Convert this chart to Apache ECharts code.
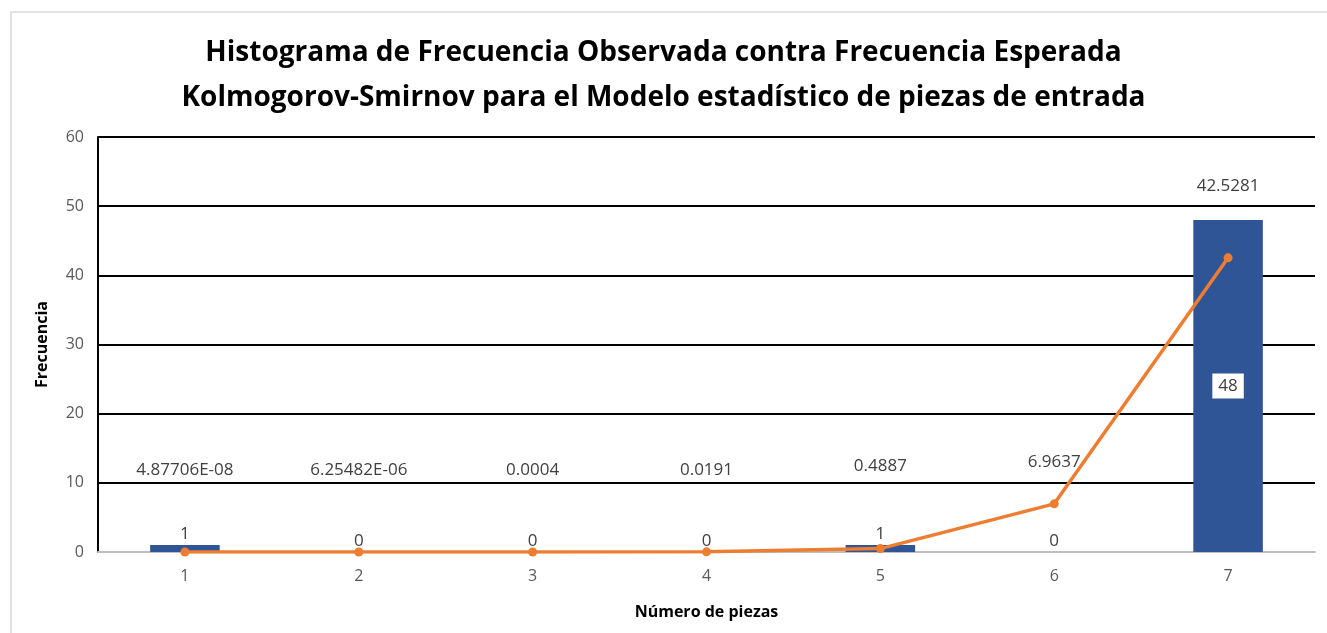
<!DOCTYPE html>
<html>
<head>
<meta charset="utf-8">
<script src="https://cdn.jsdelivr.net/npm/echarts@6/dist/echarts.min.js"></script>
<style>
  html, body { margin: 0; padding: 0; background: #fff; }
  #chart { width: 1327px; height: 633px; }
</style>
</head>
<body>
<div id="chart"></div>
<script>
const categories = ['1', '2', '3', '4', '5', '6', '7']
const observed = [1, 0, 0, 0, 1, 0, 48]
const expected = [4.87706e-8, 6.25482e-6, 0.0004, 0.0191, 0.4887, 6.9637, 42.5281]
const expectedLabels = ['4.87706E-08', '6.25482E-06', '0.0004', '0.0191', '0.4887', '6.9637', '42.5281']
// hand-placed label offsets, like the moved labels in the original sheet
const expectedLabelOffsets = [-64, -64, -64, -64, -64, -24, -54]

const chart = echarts.init(document.getElementById('chart'))

const fontFamily = '"Open Sans", "Noto Sans", sans-serif'

chart.setOption({
  animation: false,
  textStyle: { fontFamily },
  graphic: [{
    type: 'rect',
    shape: { x: 11, y: 12, width: 1400, height: 700 },
    style: { fill: 'none', stroke: '#d9d9d9', lineWidth: 1.5 },
    silent: true,
    z: -10
  }],
  title: {
    text: 'Histograma de Frecuencia Observada contra Frecuencia Esperada\nKolmogorov-Smirnov para el Modelo estadístico de piezas de entrada',
    left: 'center',
    top: 26,
    textStyle: {
      fontFamily,
      fontSize: 28,
      fontWeight: 'bold',
      color: '#000',
      lineHeight: 45
    }
  },
  grid: {
    left: 98,
    right: 12,
    top: 137,
    bottom: 81,
    containLabel: false
  },
  xAxis: {
    type: 'category',
    data: categories,
    name: 'Número de piezas',
    nameLocation: 'middle',
    nameGap: 52,
    nameTextStyle: { fontWeight: 'bold', fontSize: 16, color: '#000' },
    axisLine: { lineStyle: { color: '#bfbfbf', width: 2 } },
    axisTick: { show: false },
    axisLabel: { color: '#595959', fontSize: 16, margin: 16 }
  },
  yAxis: {
    type: 'value',
    min: 0,
    max: 60,
    interval: 10,
    name: 'Frecuencia',
    nameLocation: 'middle',
    nameGap: 48,
    nameTextStyle: { fontWeight: 'bold', fontSize: 16, color: '#000' },
    axisLine: { show: true, lineStyle: { color: '#000', width: 2 } },
    axisTick: { show: false },
    axisLabel: { color: '#595959', fontSize: 16, margin: 14 },
    splitLine: { lineStyle: { color: '#000', width: 2 } }
  },
  series: [
    {
      name: 'Observada',
      type: 'bar',
      data: observed.map(v => ({
        value: v,
        label: v > 20
          ? {
              position: 'inside',
              backgroundColor: '#fff',
              padding: [5, 6, 3, 6],
              color: '#404040'
            }
          : {}
      })),
      barWidth: '40%',
      itemStyle: { color: '#2f5597' },
      label: {
        show: true,
        position: 'top',
        distance: 2,
        color: '#404040',
        fontSize: 17
      }
    },
    {
      name: 'Esperada',
      type: 'line',
      data: expected.map((v, i) => ({
        value: v,
        label: { offset: [0, expectedLabelOffsets[i]] }
      })),
      symbol: 'circle',
      symbolSize: 9,
      lineStyle: { color: '#ed7d31', width: 3.5 },
      itemStyle: { color: '#ed7d31' },
      z: 3,
      label: {
        show: true,
        position: 'top',
        color: '#404040',
        fontSize: 17,
        formatter: p => expectedLabels[p.dataIndex]
      }
    }
  ]
})
</script>
</body>
</html>
